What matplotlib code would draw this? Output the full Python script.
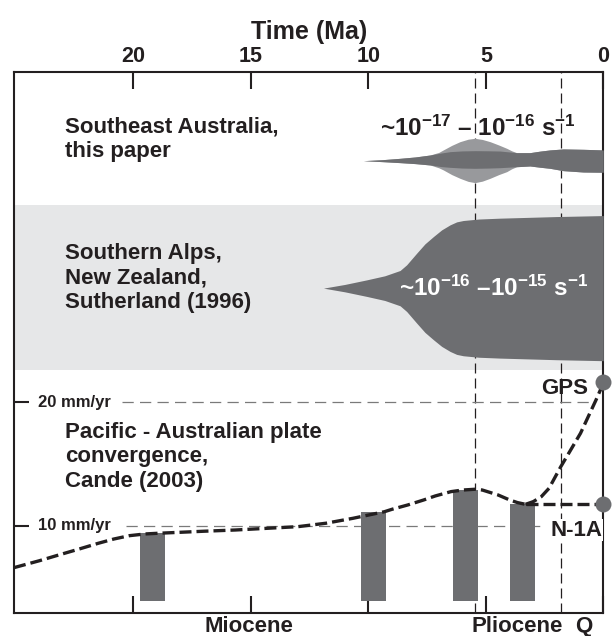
import matplotlib
matplotlib.use("Agg")
import matplotlib.pyplot as plt
import numpy as np

plt.rcParams['font.family'] = ['Liberation Sans', 'DejaVu Sans']
plt.rcParams['font.weight'] = 'bold'
plt.rcParams['mathtext.fontset'] = 'custom'
plt.rcParams['mathtext.rm'] = 'Liberation Sans:bold'
plt.rcParams['mathtext.bf'] = 'Liberation Sans:bold'
plt.rcParams['mathtext.default'] = 'rm'

# ---------------- data ----------------
time_ticks = [20, 15, 10, 5, 0]
rate_ticks = [10, 20]
rate_tick_labels = ["10 mm/yr", "20 mm/yr"]
boundary_times = [5.45, 1.8]           # Miocene/Pliocene, Pliocene/Quaternary

# SE Australia strain-rate envelope (panel coordinates)
seau_t_outer = [10.21, 9.4, 8.65, 8.0, 7.37, 7.0, 6.81, 6.45, 6.10, 5.75, 5.46, 5.15, 4.82,
                4.45, 4.11, 3.9, 3.69, 3.12, 2.7, 2.27, 1.70, 0.85, 0.0]
seau_outer_top = [39.58, 39.66, 39.77, 39.88, 40.04, 40.25, 40.45, 40.82, 41.12, 41.32, 41.39,
                  41.30, 41.12, 40.85, 40.58, 40.38, 40.23, 40.23, 40.35, 40.45, 40.53, 40.50, 40.45]
seau_outer_bot = [39.58, 39.50, 39.42, 39.34, 39.23, 39.00, 38.83, 38.45, 38.15, 37.90, 37.80,
                  37.92, 38.15, 38.45, 38.69, 38.92, 39.09, 39.15, 39.05, 38.96, 38.77, 38.66, 38.64]
seau_t_inner = [10.21, 9.4, 8.65, 8.0, 7.37, 6.9, 6.52, 6.0, 5.46, 4.90, 4.40, 3.69, 3.12, 2.7,
                2.27, 1.70, 0.85, 0.0]
seau_inner_top = [39.58, 39.66, 39.77, 39.88, 40.04, 40.20, 40.31, 40.37, 40.39, 40.38, 40.36,
                  40.23, 40.23, 40.35, 40.45, 40.53, 40.50, 40.45]
seau_inner_bot = [39.58, 39.50, 39.42, 39.34, 39.23, 39.10, 39.04, 38.98, 38.96, 38.98, 39.01,
                  39.09, 39.15, 39.05, 38.96, 38.77, 38.66, 38.64]

# Southern Alps envelope: centre line and half widths (panel coordinates)
alps_band = (22.61, 35.99)
alps_center = 29.25
alps_t = [11.91, 11.0, 10.07, 9.3, 8.65, 8.37, 7.94, 7.59, 7.23, 6.88, 6.52, 6.24, 5.96, 5.3,
          4.40, 2.0, 0.0]
alps_half = [0.0, 0.30, 0.67, 1.00, 1.43, 1.89, 2.84, 3.59, 4.18, 4.72, 5.13, 5.37, 5.48, 5.60,
             5.67, 5.80, 5.88]

# Pacific-Australian convergence (mm/yr)
conv_t = [25.08, 24.0, 23.17, 22.34, 21.5, 20.83, 20.17, 19.5, 19.0, 17.0, 15.66, 13.0, 11.8,
          10.65, 9.32, 8.99, 8.32, 7.65, 7.15, 6.48, 5.98, 5.48, 5.15, 4.48, 3.98, 3.65, 3.31]
conv_v = [6.60, 7.16, 7.63, 8.09, 8.57, 8.92, 9.19, 9.33, 9.38, 9.55, 9.65, 9.92, 10.20,
          10.60, 11.13, 11.33, 11.68, 12.08, 12.41, 12.76, 12.89, 12.95, 12.89, 12.49, 12.08,
          11.87, 11.73]
n1a_t = [3.31, 0.0]
n1a_v = [11.73, 11.73]
gps_t = [3.31, 2.98, 2.64, 2.31, 1.81, 1.40, 0.97, 0.31, 0.0]
gps_v = [11.73, 11.95, 12.35, 13.03, 14.78, 16.10, 17.49, 20.19, 21.54]
dot_t = [0.0, 0.0]
dot_v = [21.67, 11.73]

# Bars (range of convergence estimates)
bar_t = [19.18, 9.79, 5.88, 3.44]
bar_top = [9.38, 11.14, 12.90, 11.73]
bar_bottom = 3.92
bar_width = 1.06

dark = '#6d6e71'
light = '#98999c'
band = '#e6e7e8'
ink = '#231f20'

fig = plt.figure(figsize=(6.12, 6.36), dpi=100)
ax = fig.add_axes([0.0229, 0.0357, 0.9629, 0.8506])
ax.set_xlim(25.08, 0)
ax.set_ylim(2.90, 46.74)

# band
ax.axhspan(alps_band[0], alps_band[1], color=band, lw=0, zorder=0)

# boundary dashed lines
for bt in boundary_times:
    ax.axvline(bt, color=ink, lw=0.9, ls=(0, (8, 4)), zorder=1)

# horizontal guides
ax.plot([20.5, 0.5], [20, 20], color='#7a7a7a', lw=0.9, ls=(0, (9, 5)), zorder=1)
ax.plot([20.33, 2.65], [10, 10], color='#7a7a7a', lw=0.9, ls=(0, (9, 5)), zorder=1)

# SE Australia
ax.fill_between(seau_t_outer, seau_outer_bot, seau_outer_top, color=light, lw=0, zorder=2)
ax.fill_between(seau_t_inner, seau_inner_bot, seau_inner_top, color=dark, lw=0, zorder=3)

# Southern Alps
a_c = np.full(len(alps_t), alps_center)
a_h = np.array(alps_half)
ax.fill_between(alps_t, a_c - a_h, a_c + a_h, color=dark, lw=0, zorder=3)

# bars
ax.bar(bar_t, np.array(bar_top) - bar_bottom, bottom=bar_bottom, width=bar_width,
       color=dark, lw=0, zorder=2)

# convergence curves
ls_conv = (0, (3.6, 1.5))
ax.plot(conv_t, conv_v, color=ink, lw=2.4, ls=ls_conv, zorder=4)
ax.plot(n1a_t, n1a_v, color=ink, lw=2.4, ls=ls_conv, zorder=4)
ax.plot(gps_t, gps_v, color=ink, lw=2.4, ls=ls_conv, zorder=4)
ax.plot(dot_t, dot_v, 'o', ms=11.5, color=dark, mec='none', zorder=5, clip_on=False)

# axes styling
for s in ax.spines.values():
    s.set_linewidth(1.5)
    s.set_color(ink)
ax.set_xticks(time_ticks)
ax.set_xticklabels([str(t) for t in time_ticks], fontsize=15.5, fontweight='bold', color=ink)
ax.tick_params(axis='x', which='both', top=True, bottom=True, direction='in', length=12,
               width=1.5, color=ink, labeltop=True, labelbottom=False, pad=4)
ax.set_yticks(rate_ticks)
ax.set_yticklabels([])
ax.tick_params(axis='y', left=True, right=False, direction='in', length=11, width=1.5, color=ink)
ax.xaxis.set_label_position('top')
ax.set_xlabel('Time (Ma)', fontsize=18, fontweight='bold', color=ink, labelpad=5)

for v, lab in zip(rate_ticks, rate_tick_labels):
    ax.text(24.05, v, lab, fontsize=12, fontweight='bold', color=ink, va='center', ha='left',
            bbox=dict(facecolor='white', edgecolor='none', pad=1))

fs = 16
ls_txt = 1.2
ax.text(22.9, 41.33, 'Southeast Australia,\nthis paper', fontsize=fs, fontweight='bold',
        color=ink, va='center', ha='left', linespacing=ls_txt)
ax.text(22.9, 30.07, 'Southern Alps,\nNew Zealand,\nSutherland (1996)', fontsize=fs,
        fontweight='bold', color=ink, va='center', ha='left', linespacing=ls_txt)
ax.text(22.9, 15.57, 'Pacific - Australian plate\nconvergence,\nCande (2003)', fontsize=fs,
        fontweight='bold', color=ink, va='center', ha='left', linespacing=ls_txt)

ax.text(5.35, 42.2, '~10$^{-17}$ – 10$^{-16}$ s$^{-1}$', fontsize=17.5, color=ink,
        ha='center', va='center', zorder=6)
ax.text(4.67, 29.26, '~10$^{-16}$ –10$^{-15}$ s$^{-1}$', fontsize=17.5, color='white',
        ha='center', va='center', zorder=6)

ax.text(0.65, 21.13, 'GPS', fontsize=fs, color=ink, ha='right', va='center', zorder=6)
ax.text(0.05, 9.65, 'N-1A', fontsize=fs, color=ink, ha='right', va='center', zorder=6,
        bbox=dict(facecolor='white', edgecolor='none', pad=0.5))

ax.text(15.1, 1.79, 'Miocene', fontsize=fs, color=ink, ha='center', va='center', clip_on=False)
ax.text(3.65, 1.79, 'Pliocene', fontsize=fs, color=ink, ha='center', va='center', clip_on=False)
ax.text(0.85, 1.79, 'Q', fontsize=fs, color=ink, ha='center', va='center', clip_on=False)

fig.savefig('out.png', dpi=100)
